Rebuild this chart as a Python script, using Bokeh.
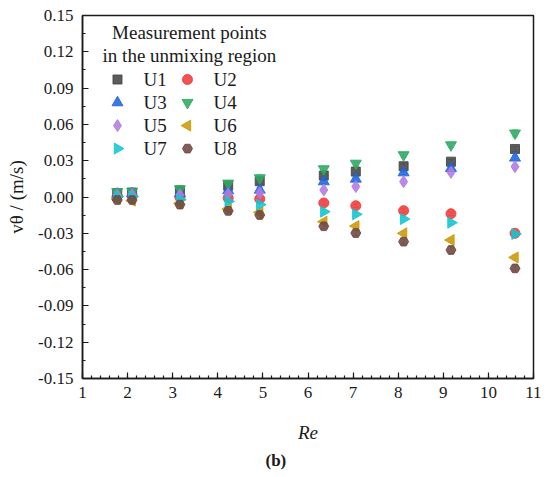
import math
from bokeh.plotting import figure
from bokeh.models import (Range1d, SingleIntervalTicker, NumeralTickFormatter,
                          Label, Whisker, ColumnDataSource, Title)
from bokeh.embed import file_html
from bokeh.resources import INLINE

# ---- data ----
re_vals = [1.77, 2.10, 3.16, 4.23, 4.93, 6.35, 7.06, 8.12, 9.17, 10.59]

U1 = [0.0030, 0.0036, 0.0053, 0.0094, 0.0130, 0.0177, 0.0210, 0.0254, 0.0292, 0.0397]
U2 = [0.0008, 0.0010, -0.0003, -0.0008, -0.0016, -0.0049, -0.0072, -0.0113, -0.0138, -0.0300]
U3 = [0.0025, 0.0028, 0.0030, 0.0053, 0.0058, 0.0127, 0.0149, 0.0201, 0.0237, 0.0323]
U4 = [0.0044, 0.0047, 0.0066, 0.0113, 0.0157, 0.0232, 0.0278, 0.0348, 0.0430, 0.0527]
U5 = [0.0017, 0.0020, 0.0017, 0.0025, 0.0033, 0.0058, 0.0086, 0.0127, 0.0204, 0.0251]
U6 = [-0.0016, -0.0030, -0.0052, -0.0099, -0.0127, -0.0204, -0.0240, -0.0300, -0.0356, -0.0499]
U7 = [0.0005, 0.0003, -0.0022, -0.0036, -0.0063, -0.0121, -0.0143, -0.0182, -0.0212, -0.0306]
U8 = [-0.0025, -0.0025, -0.0063, -0.0115, -0.0149, -0.0242, -0.0298, -0.0369, -0.0438, -0.0590]

E1 = [0.0015, 0.0015, 0.0020, 0.0020, 0.0025, 0.0020, 0.0020, 0.0020, 0.0020, 0.0020]
E2 = [0.0015, 0.0015, 0.0020, 0.0020, 0.0020, 0.0015, 0.0015, 0.0015, 0.0015, 0.0020]
E3 = [0.0015, 0.0015, 0.0020, 0.0020, 0.0020, 0.0015, 0.0015, 0.0015, 0.0015, 0.0020]
E4 = [0.0020, 0.0020, 0.0030, 0.0025, 0.0030, 0.0020, 0.0020, 0.0020, 0.0020, 0.0030]
E5 = [0.0015, 0.0015, 0.0020, 0.0020, 0.0020, 0.0015, 0.0015, 0.0020, 0.0020, 0.0015]
E6 = [0.0015, 0.0015, 0.0020, 0.0020, 0.0020, 0.0015, 0.0015, 0.0015, 0.0015, 0.0020]
E7 = [0.0015, 0.0015, 0.0020, 0.0020, 0.0025, 0.0015, 0.0015, 0.0015, 0.0015, 0.0020]
E8 = [0.0015, 0.0020, 0.0030, 0.0020, 0.0030, 0.0020, 0.0020, 0.0020, 0.0030, 0.0020]

names = ["U1", "U2", "U3", "U4", "U5", "U6", "U7", "U8"]
values = [U1, U2, U3, U4, U5, U6, U7, U8]
errors = [E1, E2, E3, E4, E5, E6, E7, E8]
legend_title = ["Measurement points", "in the unmixing region"]

# ---- styles ----
colors = ["#454545", "#f03a3a", "#1f66e0", "#2eaa62", "#b07ce4", "#cc9a08", "#14c6cf", "#6e4840"]
markers = ["square", "circle", "triangle", "inverted_triangle", "diamond", "triangle", "triangle", "hex"]
angles = [0, 0, 0, 0, 0, math.pi / 2, -math.pi / 2, 0]
sizes = [9, 10, 11, 11, 12, 11, 11, 10]

# ---- legend layout (data-space anchors inside the frame) ----
leg_col_marker_x = [1.776, 3.328]
leg_col_text_x = [2.353, 3.905]
leg_row_y = [0.0971, 0.0780, 0.0590, 0.0400]
leg_title_x = 3.37
leg_title_y = [0.136, 0.117]

SERIF = "Liberation Serif"
INK = "#1a1a1a"

p = figure(width=541, height=476, output_backend="svg", toolbar_location=None,
           x_range=Range1d(1, 11), y_range=Range1d(-0.15, 0.15),
           min_border_left=82, min_border_right=8, min_border_top=15, min_border_bottom=98)
p.grid.visible = False
p.background_fill_color = "white"
p.border_fill_color = "white"
p.outline_line_color = INK
p.outline_line_width = 1.5

p.xaxis.ticker = SingleIntervalTicker(interval=1, num_minor_ticks=5)
p.yaxis.ticker = SingleIntervalTicker(interval=0.03, num_minor_ticks=2)
p.yaxis.formatter = NumeralTickFormatter(format="0.00")

for ax in (p.xaxis[0], p.yaxis[0]):
    ax.axis_line_color = INK
    ax.axis_line_width = 1.5
    ax.major_tick_in = 6
    ax.major_tick_out = 0
    ax.minor_tick_in = 3
    ax.minor_tick_out = 0
    ax.major_tick_line_color = INK
    ax.minor_tick_line_color = INK
    ax.major_tick_line_width = 1.2
    ax.minor_tick_line_width = 1.2
    ax.major_label_text_font = SERIF
    ax.major_label_text_font_size = "17px"
    ax.major_label_text_color = INK
    ax.axis_label_text_font = SERIF
    ax.axis_label_text_font_size = "19px"
    ax.axis_label_text_color = INK

p.xaxis.major_label_standoff = 8
p.yaxis.major_label_standoff = 9
p.xaxis.axis_label = "Re"
p.xaxis.axis_label_text_font_style = "italic"
p.xaxis.axis_label_standoff = 21
p.yaxis.axis_label = "vθ / (m/s)"
p.yaxis.axis_label_text_font_style = "normal"
p.yaxis.axis_label_standoff = 8

for name, vals, errs, col, mk, ang, sz in zip(names, values, errors, colors, markers, angles, sizes):
    src = ColumnDataSource(dict(x=re_vals, y=vals,
                                lo=[v - e for v, e in zip(vals, errs)],
                                hi=[v + e for v, e in zip(vals, errs)]))
    w = Whisker(base="x", upper="hi", lower="lo", source=src, dimension="height",
                line_color=col, line_alpha=0.45, line_width=1)
    for head in (w.upper_head, w.lower_head):
        head.size = 6
        head.line_color = col
        head.line_alpha = 0.45
    p.add_layout(w)
    p.scatter("x", "y", source=src, marker=mk, angle=ang, size=sz,
              fill_color=col, line_color=col, fill_alpha=0.88, line_alpha=0.88)

# ---- legend drawn by hand (two columns, row-major) so rotated triangles show ----
for i, (name, col, mk, ang, sz) in enumerate(zip(names, colors, markers, angles, sizes)):
    row, c = divmod(i, 2)
    p.scatter(x=[leg_col_marker_x[c]], y=[leg_row_y[row]], marker=mk, angle=ang, size=sz,
              fill_color=col, line_color=col, fill_alpha=0.88, line_alpha=0.88)
    p.add_layout(Label(x=leg_col_text_x[c], y=leg_row_y[row], text=name,
                       text_align="left", text_baseline="middle",
                       text_font=SERIF, text_font_size="19px", text_color=INK))

for txt, yv in zip(legend_title, leg_title_y):
    p.add_layout(Label(x=leg_title_x, y=yv, text=txt, text_align="center", text_baseline="middle",
                       text_font=SERIF, text_font_size="19px", text_color=INK))

# caption
p.add_layout(Title(text="(b)", align="left", offset=183, standoff=6,
                   text_font=SERIF, text_font_size="17px", text_font_style="bold",
                   text_color=INK), "below")

open("out.html", "w").write(file_html(p, INLINE))
